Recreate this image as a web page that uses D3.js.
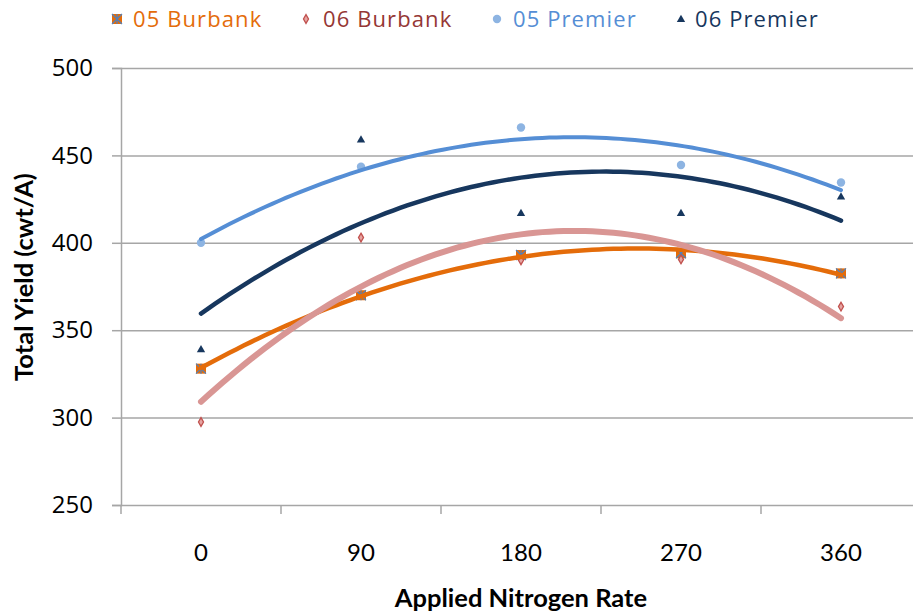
<!DOCTYPE html>
<html>
<head>
<meta charset="utf-8">
<script src="https://cdn.jsdelivr.net/npm/d3@7"></script>
<style>
  body { margin: 0; background: #fff; }
  svg { display: block; }
</style>
</head>
<body>
<div id="chart"></div>
<script>
// Data
const nRates = [0, 90, 180, 270, 360];
const burbank05 = [328, 370, 393, 394, 382.5];
const burbank06 = [297.5, 403, 390, 390.5, 363.5];
const premier05 = [400, 443.5, 466, 444.5, 434.5];
const premier06 = [339, 459, 417, 417, 426.5];
const yTicks = [250, 300, 350, 400, 450, 500];

const seriesNames = ["05 Burbank", "06 Burbank", "05 Premier", "06 Premier"];

const width = 913, height = 616;
const margin = { top: 68, right: -8, bottom: 111, left: 121 };

const svg = d3.select("#chart").append("svg")
    .attr("width", width)
    .attr("height", height);

const x = d3.scaleBand()
    .domain(nRates)
    .range([margin.left, width - margin.right]);

// continuous version of the same axis, for the trendlines
const xLin = d3.scaleLinear()
    .domain([nRates[0], nRates[nRates.length - 1]])
    .range([x(nRates[0]) + x.bandwidth() / 2, x(nRates[nRates.length - 1]) + x.bandwidth() / 2]);

const y = d3.scaleLinear()
    .domain([250, 500])
    .range([height - margin.bottom, margin.top]);

const gridColor = "#a6a6a6";

// gridlines
svg.append("g")
    .attr("transform", `translate(${margin.left},0)`)
    .call(d3.axisLeft(y).tickValues(yTicks).tickSize(-(width - margin.left + 10)).tickFormat(""))
    .call(g => g.select(".domain").remove())
    .call(g => g.selectAll("line").attr("stroke", gridColor).attr("stroke-width", 1.5));

// y axis
svg.append("g")
    .attr("transform", `translate(${margin.left},0)`)
    .call(d3.axisLeft(y).tickValues(yTicks).tickSize(9).tickPadding(19))
    .call(g => g.select(".domain").attr("stroke", gridColor).attr("stroke-width", 1.5))
    .call(g => g.selectAll("line").attr("stroke", gridColor).attr("stroke-width", 1.5))
    .call(g => g.selectAll("text")
        .attr("fill", "#000")
        .style("font-family", "'Open Sans', sans-serif")
        .style("font-size", "24px"));

// x axis: boundary ticks between categories
const xAxisG = svg.append("g")
    .attr("transform", `translate(0,${y(250)})`);

xAxisG.selectAll(".bound")
    .data(nRates)
    .enter()
    .append("line")
    .attr("x1", d => x(d))
    .attr("x2", d => x(d))
    .attr("y1", 0)
    .attr("y2", 9)
    .attr("stroke", gridColor)
    .attr("stroke-width", 1.5);

xAxisG.selectAll(".xlab")
    .data(nRates)
    .enter()
    .append("text")
    .attr("x", d => x(d) + x.bandwidth() / 2)
    .attr("y", 56)
    .attr("text-anchor", "middle")
    .style("font-family", "Lato, sans-serif")
    .style("font-size", "24px")
    .attr("fill", "#000")
    .text(d => d);

// axis titles
svg.append("text")
    .attr("x", xLin(180))
    .attr("y", 607)
    .attr("text-anchor", "middle")
    .style("font-family", "Lato, sans-serif")
    .style("font-weight", "bold")
    .style("font-size", "25.5px")
    .text("Applied Nitrogen Rate");

svg.append("text")
    .attr("transform", `translate(33,${277}) rotate(-90)`)
    .attr("text-anchor", "middle")
    .style("font-family", "Lato, sans-serif")
    .style("font-weight", "bold")
    .style("font-size", "25.5px")
    .text("Total Yield (cwt/A)");

// quadratic least-squares trendline (Excel polynomial order 2)
function quadFit(xs, ys) {
    const n = xs.length;
    let s = [0, 0, 0, 0, 0], t = [0, 0, 0];
    for (let i = 0; i < n; i++) {
        const xi = xs[i], yi = ys[i];
        for (let k = 0; k < 5; k++) s[k] += Math.pow(xi, k);
        for (let k = 0; k < 3; k++) t[k] += Math.pow(xi, k) * yi;
    }
    const A = [[s[0], s[1], s[2]], [s[1], s[2], s[3]], [s[2], s[3], s[4]]];
    const det = m => m[0][0] * (m[1][1] * m[2][2] - m[1][2] * m[2][1])
        - m[0][1] * (m[1][0] * m[2][2] - m[1][2] * m[2][0])
        + m[0][2] * (m[1][0] * m[2][1] - m[1][1] * m[2][0]);
    const D = det(A);
    const coef = [0, 1, 2].map(c => {
        const M = A.map((row, r) => row.map((v, k) => k === c ? t[r] : v));
        return det(M) / D;
    });
    return xv => coef[0] + coef[1] * xv + coef[2] * xv * xv;
}

const series = [
    { name: seriesNames[0], values: burbank05, text: "#e46c0a", line: "#e46c0a", lw: 4.5, marker: "burbank05" },
    { name: seriesNames[1], values: burbank06, text: "#953735", line: "#d99694", lw: 6, marker: "diamond" },
    { name: seriesNames[2], values: premier05, text: "#558ed5", line: "#558ed5", lw: 4, marker: "circle" },
    { name: seriesNames[3], values: premier06, text: "#17375e", line: "#17375e", lw: 4.5, marker: "triangle" }
];

function drawMarker(g, type, cx, cy) {
    if (type === "burbank05") {
        g.append("rect").attr("x", cx - 5).attr("y", cy - 5).attr("width", 10).attr("height", 10)
            .attr("fill", "#e46c0a");
        g.append("path")
            .attr("d", `M${cx - 5},${cy - 5}L${cx + 5},${cy + 5}M${cx - 5},${cy + 5}L${cx + 5},${cy - 5}M${cx},${cy - 5}L${cx},${cy + 5}`)
            .attr("stroke", "#4f81bd").attr("stroke-width", 1.2).attr("fill", "none");
    } else if (type === "diamond") {
        g.append("path")
            .attr("d", d3.symbol(d3.symbolDiamond, 22)())
            .attr("transform", `translate(${cx},${cy})`)
            .attr("fill", "#e6a5a3").attr("stroke", "#c0504d").attr("stroke-width", 1.3);
    } else if (type === "circle") {
        g.append("circle").attr("cx", cx).attr("cy", cy).attr("r", 4.2).attr("fill", "#8db4e2");
    } else {
        g.append("path")
            .attr("d", d3.symbol(d3.symbolTriangle, 30)())
            .attr("transform", `translate(${cx},${cy + 0.5})`)
            .attr("fill", "#17375e");
    }
}

// markers
const markerG = svg.append("g");
series.forEach(s => {
    s.values.forEach((v, i) => {
        drawMarker(markerG, s.marker, x(nRates[i]) + x.bandwidth() / 2, y(v));
    });
});

// trendlines
const line = d3.line().x(d => xLin(d[0])).y(d => y(d[1]));
series.forEach(s => {
    const f = quadFit(nRates, s.values);
    const pts = d3.range(0, 361, 4).map(xv => [xv, f(xv)]);
    svg.append("path")
        .attr("d", line(pts))
        .attr("fill", "none")
        .attr("stroke", s.line)
        .attr("stroke-width", s.lw)
        .attr("stroke-linecap", "round")
        .attr("stroke-linejoin", "round");
});

// legend
const legendMarkX = [117, 306, 497, 681];
const legendTextX = [133, 323, 513, 695];
const legend = svg.append("g");
series.forEach((s, i) => {
    drawMarker(legend, s.marker, legendMarkX[i], 19);
    legend.append("text")
        .attr("x", legendTextX[i])
        .attr("y", 19)
        .attr("dy", "0.36em")
        .style("font-family", "'Open Sans', sans-serif")
        .style("font-size", "22px")
        .style("letter-spacing", "1.1px")
        .attr("fill", s.text)
        .text(s.name);
});
</script>
</body>
</html>
